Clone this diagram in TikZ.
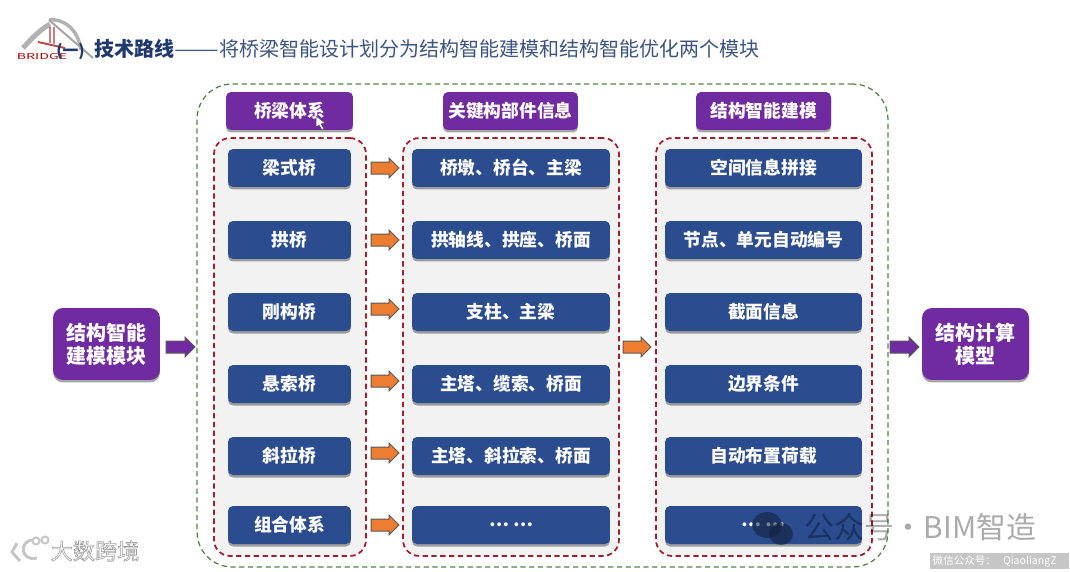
\documentclass[tikz,border=0pt]{standalone}
\usepackage{fontspec}
\setmainfont{Noto Sans CJK SC}
\usetikzlibrary{shadows, shapes.arrows}
\definecolor{BOX_Blue}{RGB}{43, 76, 143}
\definecolor{BOX_Purple}{RGB}{112, 43, 160}
\definecolor{ARROW_Orange}{RGB}{237, 125, 49}
\definecolor{TITLE_Navy}{RGB}{31, 56, 110}
\definecolor{TITLE_Gray}{RGB}{62, 84, 128}
\definecolor{DASH_Red}{RGB}{160, 30, 50}
\definecolor{DASH_Green}{RGB}{84, 130, 70}
\tikzset{
    % all sizes below are cm, one pixel of the reference is 0.02
    box shadow/.style={drop shadow={shadow xshift=0cm, shadow yshift=-0.05cm, opacity=.35, fill=black}},
    blue box/.style={rectangle, rounded corners=0.1cm, fill=BOX_Blue, text=white, inner sep=0, minimum height=0.76cm, font=\fontsize{10.1}{12}\selectfont\bfseries, box shadow},
    head box/.style={blue box, fill=BOX_Purple},
    side box/.style={head box, rounded corners=0.2cm, minimum width=2.14cm, minimum height=1.44cm, align=center, font=\fontsize{11.4}{13.2}\selectfont\bfseries},
    red panel/.style={rectangle, draw=DASH_Red, densely dashed, line width=0.35mm, rounded corners=0.32cm, fill=gray!10, inner sep=0},
    green panel/.style={rectangle, draw=DASH_Green, densely dashed, line width=0.25mm, rounded corners=0.7cm, inner sep=0},
    orange arrow/.style={single arrow, draw=black!65, line width=0.2mm, fill=ARROW_Orange, inner sep=0, minimum height=0.56cm, single arrow head extend=0.08cm},
    purple arrow/.style={orange arrow, fill=BOX_Purple, minimum height=0.58cm},
}
\newcommand{\shaft}{\rule{0pt}{0.22cm}}
\begin{document}
\begin{tikzpicture}[x=0.02cm, y=-0.02cm]
\useasboundingbox (0,0) rectangle (1070,571);

% frames
\node[green panel, minimum width=13.82cm, minimum height=9.66cm] (frame) at (542.5,325.5) {};
\node[red panel, minimum width=3.04cm, minimum height=8.36cm] (pnl1) at (290,347) {};
\node[red panel, minimum width=4.32cm, minimum height=8.36cm] (pnl2) at (511,347) {};
\node[red panel, minimum width=4.32cm, minimum height=8.36cm] (pnl3) at (764,347) {};

% logo
\draw[gray!60, line width=1mm] (23,48) .. controls (32,38) and (40,30) .. (50,24);
\draw[gray!60, line width=0.7mm] (49,20) .. controls (62,18) and (78,28) .. (81,50);
\draw[gray!70, line width=0.4mm] (49,20) -- (93,58);
\draw[red!60!black, opacity=.5, line width=0.35mm] (50,27) -- (50,43) (54,27) -- (54,44);
\draw[red!60!black, opacity=.7, line width=0.4mm] (38,42) -- (65,48);
\node[text=red!70!black, inner sep=0, font=\fontsize{4.6}{5}\selectfont, xscale=1.75] (logo) at (42,57) {BRIDGE};

% title
\node[anchor=west, inner sep=0, text=TITLE_Gray, font=\fontsize{11.4}{13}\selectfont] (title) at (56,50) {\makebox[0.76cm][l]{\textcolor{TITLE_Navy}{\fontsize{9}{13}\selectfont\bfseries (一)}}\textcolor{TITLE_Navy}{\bfseries 技术路线}\scalebox{1.33}[1]{——}将桥梁智能设计划分为结构智能建模和结构智能优化两个模块};

% heads
\node[head box, minimum width=2.54cm] (h1) at (289.5,111) {桥梁体系};
\node[head box, minimum width=2.7cm] (h2) at (510.5,111) {关键构部件信息};
\node[head box, minimum width=2.7cm] (h3) at (763.5,111) {结构智能建模};

% first column
\node[blue box, minimum width=2.46cm] (a1) at (289.5,168) {梁式桥};
\node[blue box, minimum width=2.46cm] (a2) at (289.5,240) {拱桥};
\node[blue box, minimum width=2.46cm] (a3) at (289.5,312) {刚构桥};
\node[blue box, minimum width=2.46cm] (a4) at (289.5,384) {悬索桥};
\node[blue box, minimum width=2.46cm] (a5) at (289.5,456) {斜拉桥};
\node[blue box, minimum width=2.46cm] (a6) at (289.5,525) {组合体系};

% second column
\node[blue box, minimum width=3.96cm] (b1) at (511,168) {桥墩、桥台、主梁};
\node[blue box, minimum width=3.96cm] (b2) at (511,240) {拱轴线、拱座、桥面};
\node[blue box, minimum width=3.96cm] (b3) at (511,312) {支柱、主梁};
\node[blue box, minimum width=3.96cm] (b4) at (511,384) {主塔、缆索、桥面};
\node[blue box, minimum width=3.96cm] (b5) at (511,456) {主塔、斜拉索、桥面};
\node[blue box, minimum width=3.96cm] (b6) at (511,525) {… …};

% third column
\node[blue box, minimum width=3.94cm] (c1) at (763.5,168) {空间信息拼接};
\node[blue box, minimum width=3.94cm] (c2) at (763.5,240) {节点、单元自动编号};
\node[blue box, minimum width=3.94cm] (c3) at (763.5,312) {截面信息};
\node[blue box, minimum width=3.94cm] (c4) at (763.5,384) {边界条件};
\node[blue box, minimum width=3.94cm] (c5) at (763.5,456) {自动布置荷载};
\node[blue box, minimum width=3.94cm] (c6) at (763.5,525) {… …};

% block arrows
\node[orange arrow] (r1) at (382,168) {\shaft};
\node[orange arrow] (r2) at (382,240) {\shaft};
\node[orange arrow] (r3) at (382,309) {\shaft};
\node[orange arrow] (r4) at (382,381) {\shaft};
\node[orange arrow] (r5) at (382,453) {\shaft};
\node[orange arrow] (r6) at (382,525) {\shaft};
\node[orange arrow] (r7) at (634,347) {\shaft};
\node[purple arrow] (m1) at (177.5,347) {\shaft};
\node[purple arrow] (m2) at (901.5,347) {\shaft};

% side boxes
\node[side box] (modl) at (106.5,344) {结构智能\\建模模块};
\node[side box] (calc) at (975.5,344) {结构计算\\模型};

% mouse pointer
\draw[fill=white, draw=black!70, line width=0.1mm] (316,116) -- (316,127) -- (319,125) -- (322,130) -- (324,129) -- (321,124) -- (325,123) -- cycle;

% watermarks
\draw[gray!45, line width=0.6mm] (17,543) -- (12,552) -- (20,561) (33,540) .. controls (19,540) and (20,562) .. (37,558);
\draw[gray!45, line width=0.4mm] (36,541) circle (3.5) (45,540) circle (3.5);
\node[text=white, inner sep=0, font=\fontsize{12.6}{14}\selectfont] (mark1) at (95,551) {\special{pdf:code 2 Tr 0.35 w 0.62 G}大数跨境\special{pdf:code 0 Tr}};
\fill[black!60!BOX_Blue, opacity=.55] (767,525) ellipse (15 and 13);
\fill[black!60!BOX_Blue, opacity=.6] (781,534) ellipse (12 and 11);
\node[text=black, opacity=.33, inner sep=0, anchor=west, font=\fontsize{17}{20}\selectfont] (mark2) at (804,527) {公众号·BIM智造};
\node[fill=gray!45, text=white, inner sep=0, anchor=west, minimum height=0.32cm, font=\fontsize{6}{7}\selectfont] (mark3) at (930,561) {\makebox[2.78cm][l]{\ 微信公众号：\hspace{4pt}QiaoliangZ}};
\end{tikzpicture}
\end{document}
